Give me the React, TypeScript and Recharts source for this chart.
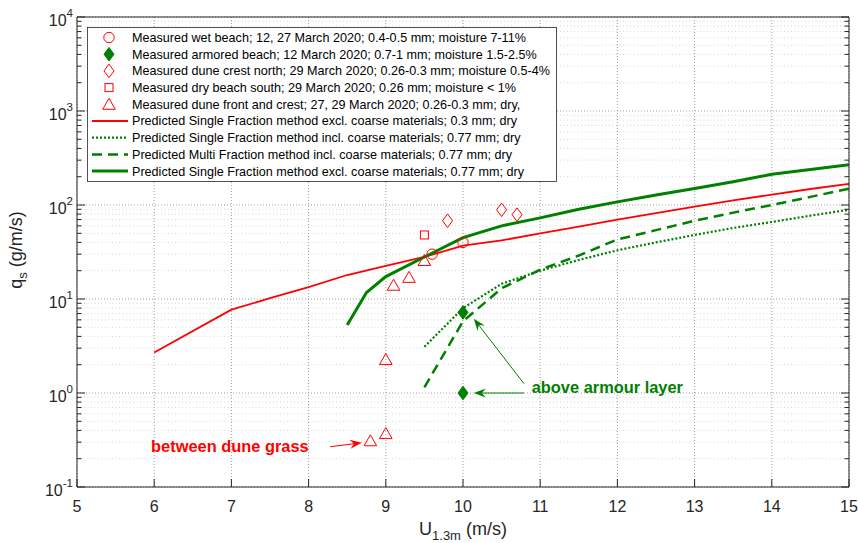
import React from "react";
import {
  CartesianGrid,
  ComposedChart,
  Legend,
  Line,
  ReferenceDot,
  ReferenceLine,
  Scatter,
  XAxis,
  YAxis
} from "recharts";

const RED = "#ff0000";
const GREEN = "#008000";
const INK = "#262626";
const FONT = "'Liberation Sans', Arial, Helvetica, sans-serif";

// measured points (U in m/s, qs in g/m/s)
const wetBeachU = [9.6, 10];
const wetBeachQ = [30, 40];
const armoredU = [10, 10];
const armoredQ = [7.2, 1.0];
const crestNorthU = [9.8, 10.5, 10.7];
const crestNorthQ = [68, 89, 79];
const dryBeachU = [9.5];
const dryBeachQ = [48];
const duneFrontU = [8.8, 9.0, 9.0, 9.1, 9.3, 9.5];
const duneFrontQ = [0.31, 0.37, 2.27, 14, 17, 25.7];

// predicted curves
const sfExcl03U = [6, 7, 7.5, 8, 8.5, 9, 9.5, 10, 10.5, 11, 11.5, 12, 12.5, 13, 13.5, 14, 14.5, 15];
const sfExcl03Q = [2.7, 7.7, 10.2, 13.4, 18, 22.5, 28, 37, 42, 50, 59, 70, 82, 96, 112, 129, 148, 168];
const coarseU = [9.5, 10, 10.5, 11, 11.5, 12, 12.5, 13, 13.5, 14, 14.5, 15];
const sfIncl077Q = [3.1, 8, 14.5, 20, 26, 33, 40, 48, 57, 66, 77, 89];
const mfIncl077Q = [1.15, 5.8, 13, 20.5, 29, 43, 54, 68, 83, 100, 122, 149];
const sfExcl077U = [8.5, 8.75, 9, 9.5, 10, 10.5, 11, 11.5, 12, 12.5, 13, 13.5, 14, 14.5, 15];
const sfExcl077Q = [5.3, 11.7, 17.3, 28, 45, 60, 73, 90, 108, 128, 150, 177, 212, 239, 268];

// axes
const xTicks = [5, 6, 7, 8, 9, 10, 11, 12, 13, 14, 15];
const decades = [0.1, 1, 10, 100, 1000, 10000];
const minorSteps = [2, 3, 4, 5, 6, 7, 8, 9];
const minorValues = decades.slice(0, -1).flatMap((d) => minorSteps.map((m) => d * m));
const yTicks = [...decades, ...minorValues].sort((a, b) => a - b);

const legendLabels = [
  "Measured wet beach; 12, 27 March 2020; 0.4-0.5 mm; moisture 7-11%",
  "Measured armored beach; 12 March 2020; 0.7-1 mm; moisture 1.5-2.5%",
  "Measured dune crest north; 29 March 2020; 0.26-0.3 mm; moisture 0.5-4%",
  "Measured dry beach south; 29 March 2020; 0.26 mm; moisture < 1%",
  "Measured dune front and crest; 27, 29 March 2020; 0.26-0.3 mm; dry,",
  "Predicted Single Fraction method excl. coarse materials; 0.3 mm; dry",
  "Predicted Single Fraction method incl. coarse materials; 0.77 mm; dry",
  "Predicted Multi Fraction method incl. coarse materials; 0.77 mm; dry",
  "Predicted Single Fraction method excl. coarse materials; 0.77 mm; dry"
];

const toPoints = (xs: number[], ys: number[]) => xs.map((x, i) => ({ x, y: ys[i] }));

type MarkerKind = "circle" | "diamondFilled" | "diamond" | "square" | "triangle";

function Marker({ kind, cx, cy }: { kind: MarkerKind; cx: number; cy: number }) {
  if (kind === "circle") {
    return <circle cx={cx} cy={cy} r={5.2} fill="none" stroke={RED} strokeWidth={1} />;
  }
  if (kind === "diamondFilled" || kind === "diamond") {
    const filled = kind === "diamondFilled";
    return (
      <polygon
        points={`${cx},${cy - 6.8} ${cx + 5},${cy} ${cx},${cy + 6.8} ${cx - 5},${cy}`}
        fill={filled ? GREEN : "none"}
        stroke={filled ? GREEN : RED}
        strokeWidth={1}
      />
    );
  }
  if (kind === "square") {
    return <rect x={cx - 4} y={cy - 4} width={8} height={8} fill="none" stroke={RED} strokeWidth={1} />;
  }
  return (
    <polygon
      points={`${cx},${cy - 6} ${cx + 6.3},${cy + 5} ${cx - 6.3},${cy + 5}`}
      fill="none"
      stroke={RED}
      strokeWidth={1}
    />
  );
}

const markerShape = (kind: MarkerKind) => (p: any) => <Marker kind={kind} cx={p.cx} cy={p.cy} />;

const legendIcons: { kind?: MarkerKind; color?: string; width?: number; dash?: string }[] = [
  { kind: "circle" },
  { kind: "diamondFilled" },
  { kind: "diamond" },
  { kind: "square" },
  { kind: "triangle" },
  { color: RED, width: 1.8 },
  { color: GREEN, width: 2.2, dash: "2 2" },
  { color: GREEN, width: 2.5, dash: "10 6" },
  { color: GREEN, width: 3 }
];

function renderLegend() {
  return (
    <svg width={470} height={155} style={{ display: "block" }}>
      <rect x={0.5} y={0.5} width={469} height={154} fill="#fff" stroke={INK} strokeWidth={0.8} />
      {legendLabels.map((label, i) => {
        const cy = 10.5 + i * 16.7;
        const icon = legendIcons[i];
        return (
          <g key={label}>
            {icon.kind ? (
              <Marker kind={icon.kind} cx={22} cy={cy} />
            ) : (
              <line x1={5} x2={41} y1={cy} y2={cy} stroke={icon.color} strokeWidth={icon.width} strokeDasharray={icon.dash} />
            )}
            <text x={45} y={cy + 4.4} fontSize={12.6} fill="#000" fontFamily={FONT}>
              {label}
            </text>
          </g>
        );
      })}
    </svg>
  );
}

function isMajor(v: number) {
  const e = Math.log10(v);
  return Math.abs(e - Math.round(e)) < 1e-6;
}

function LeftTick(props: any) {
  const { x, y, payload } = props;
  const v = payload.value;
  const major = isMajor(v);
  return (
    <g>
      <line x1={x} x2={x + (major ? 8 : 4.5)} y1={y} y2={y} stroke={INK} strokeWidth={1} />
      {major && (
        <text x={x - 4} y={y + 9} textAnchor="end" fontSize={16} fill={INK} fontFamily={FONT}>
          10
          <tspan dy={-9} fontSize={11.5}>
            {Math.round(Math.log10(v))}
          </tspan>
        </text>
      )}
    </g>
  );
}

function RightTick(props: any) {
  const { x, y, payload } = props;
  const major = isMajor(payload.value);
  return <line x1={x} x2={x - (major ? 8 : 4.5)} y1={y} y2={y} stroke={INK} strokeWidth={1} />;
}

function BottomTick(props: any) {
  const { x, y, payload } = props;
  return (
    <g>
      <line x1={x} x2={x} y1={y} y2={y - 8} stroke={INK} strokeWidth={1} />
      <text x={x} y={y + 25} textAnchor="middle" fontSize={16} fill={INK} fontFamily={FONT}>
        {payload.value}
      </text>
    </g>
  );
}

function TopTick(props: any) {
  const { x, y } = props;
  return <line x1={x} x2={x} y1={y} y2={y + 8} stroke={INK} strokeWidth={1} />;
}

function XLabel(props: any) {
  const vb = props.viewBox;
  return (
    <text x={vb.x + vb.width / 2} y={535} textAnchor="middle" fontSize={18} fill={INK} fontFamily={FONT}>
      U
      <tspan dy={5} fontSize={13}>1.3m</tspan>
      <tspan dy={-5}> (m/s)</tspan>
    </text>
  );
}

function YLabel() {
  const cy = 250;
  return (
    <text x={22} y={cy} transform={`rotate(-90, 22, ${cy})`} textAnchor="middle" fontSize={18} fill={INK} fontFamily={FONT}>
      q
      <tspan dy={5} fontSize={13}>s</tspan>
      <tspan dy={-5}> (g/m/s)</tspan>
    </text>
  );
}

const arrowShape = (color: string) => (p: any) => {
  const { x1, y1, x2, y2 } = p;
  const ang = Math.atan2(y2 - y1, x2 - x1);
  const c = Math.cos(ang);
  const s = Math.sin(ang);
  const pt = (a: number, b: number) => `${x2 - a * c - b * s},${y2 - a * s + b * c}`;
  return (
    <g>
      <line x1={x1} y1={y1} x2={x2 - 8 * c} y2={y2 - 8 * s} stroke={color} strokeWidth={1} />
      <polygon points={`${pt(0, 0)} ${pt(12, 4.5)} ${pt(8, 0)} ${pt(12, -4.5)}`} fill={color} stroke="none" />
    </g>
  );
};

const textShape = (label: string, color: string) => (p: any) => (
  <text x={p.cx} y={p.cy + 5.5} textAnchor="middle" fontSize={16.4} fontWeight="bold" fill={color} fontFamily={FONT}>
    {label}
  </text>
);

export default function App() {
  return (
    <div style={{ position: "absolute", left: 0, top: 0, width: 858, height: 543, background: "#fff", fontFamily: FONT }}>
      <ComposedChart width={858} height={543} margin={{ top: 16, right: 8, bottom: 55, left: 76 }}>
        <CartesianGrid horizontalValues={minorValues} vertical={false} stroke="#d8d8d8" strokeDasharray="1 2.5" />
        <CartesianGrid horizontalValues={decades} verticalValues={xTicks} stroke="#a0a0a0" strokeDasharray="1 2" />
        <XAxis
          xAxisId={0}
          dataKey="x"
          type="number"
          domain={[5, 15]}
          ticks={xTicks}
          interval={0}
          allowDataOverflow
          height={1}
          tickSize={0}
          tickMargin={0}
          tickLine={false}
          tick={<BottomTick />}
          stroke={INK}
          label={<XLabel />}
        />
        <XAxis
          xAxisId="top"
          orientation="top"
          type="number"
          domain={[5, 15]}
          ticks={xTicks}
          interval={0}
          allowDataOverflow
          height={1}
          tickSize={0}
          tickMargin={0}
          tickLine={false}
          tick={<TopTick />}
          stroke={INK}
        />
        <YAxis
          yAxisId={0}
          dataKey="y"
          type="number"
          scale="log"
          domain={[0.1, 10000]}
          ticks={yTicks}
          interval={0}
          allowDataOverflow
          width={1}
          tickSize={0}
          tickMargin={0}
          tickLine={false}
          tick={<LeftTick />}
          stroke={INK}
          label={<YLabel />}
        />
        <YAxis
          yAxisId="right"
          orientation="right"
          type="number"
          scale="log"
          domain={[0.1, 10000]}
          ticks={yTicks}
          interval={0}
          allowDataOverflow
          width={1}
          tickSize={0}
          tickMargin={0}
          tickLine={false}
          tick={<RightTick />}
          stroke={INK}
        />

        <Line data={toPoints(sfExcl03U, sfExcl03Q)} dataKey="y" type="linear" stroke={RED} strokeWidth={1.8} dot={false} isAnimationActive={false} />
        <Line data={toPoints(coarseU, sfIncl077Q)} dataKey="y" type="linear" stroke={GREEN} strokeWidth={2.2} strokeDasharray="2 2" dot={false} isAnimationActive={false} />
        <Line data={toPoints(coarseU, mfIncl077Q)} dataKey="y" type="linear" stroke={GREEN} strokeWidth={2.5} strokeDasharray="10 6" dot={false} isAnimationActive={false} />
        <Line data={toPoints(sfExcl077U, sfExcl077Q)} dataKey="y" type="linear" stroke={GREEN} strokeWidth={3} dot={false} isAnimationActive={false} />

        <Scatter data={toPoints(wetBeachU, wetBeachQ)} dataKey="y" shape={markerShape("circle")} isAnimationActive={false} />
        <Scatter data={toPoints(armoredU, armoredQ)} dataKey="y" shape={markerShape("diamondFilled")} isAnimationActive={false} />
        <Scatter data={toPoints(crestNorthU, crestNorthQ)} dataKey="y" shape={markerShape("diamond")} isAnimationActive={false} />
        <Scatter data={toPoints(dryBeachU, dryBeachQ)} dataKey="y" shape={markerShape("square")} isAnimationActive={false} />
        <Scatter data={toPoints(duneFrontU, duneFrontQ)} dataKey="y" shape={markerShape("triangle")} isAnimationActive={false} />

        <ReferenceLine segment={[{ x: 8.28, y: 0.268 }, { x: 8.69, y: 0.296 }]} shape={arrowShape(RED)} />
        <ReferenceLine segment={[{ x: 10.79, y: 1.256 }, { x: 10.14, y: 6.17 }]} shape={arrowShape(GREEN)} />
        <ReferenceLine segment={[{ x: 10.79, y: 1 }, { x: 10.14, y: 1 }]} shape={arrowShape(GREEN)} />
        <ReferenceDot x={6.98} y={0.268} r={1} shape={textShape("between dune grass", RED)} />
        <ReferenceDot x={11.87} y={1.14} r={1} shape={textShape("above armour layer", GREEN)} />

        <Legend
          layout="vertical"
          align="center"
          verticalAlign="middle"
          width={470}
          height={155}
          wrapperStyle={{ left: 87, top: 27 }}
          content={renderLegend}
        />
      </ComposedChart>
    </div>
  );
}
